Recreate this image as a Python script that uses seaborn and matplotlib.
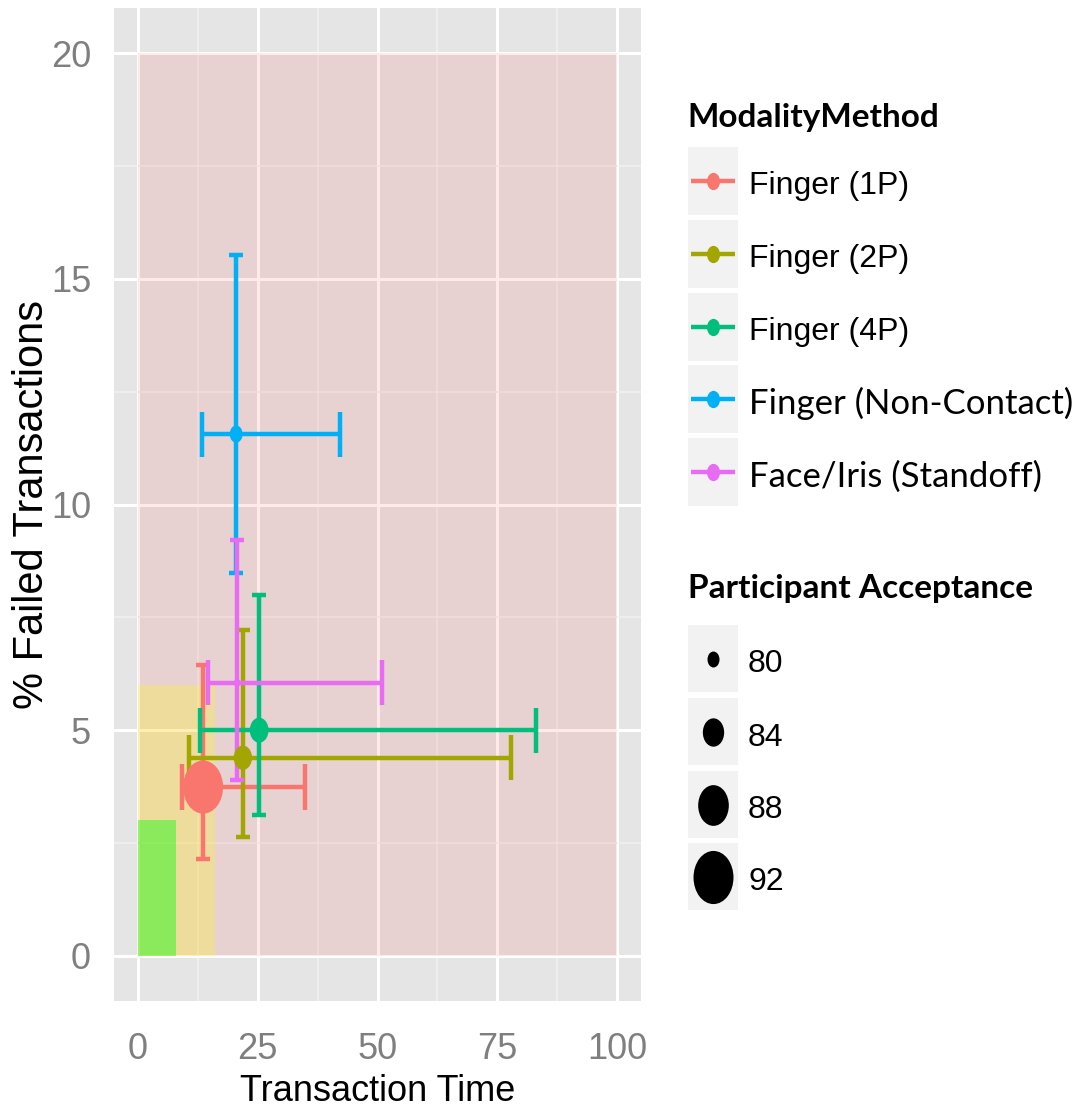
import matplotlib
matplotlib.use("Agg")
import numpy as np
import pandas as pd
import matplotlib.pyplot as plt
import seaborn as sns
from matplotlib.patches import Rectangle
from matplotlib.path import Path
from matplotlib.markers import MarkerStyle
from matplotlib.transforms import Affine2D

# values
methods = ["Finger (1P)", "Finger (2P)", "Finger (4P)",
           "Finger (Non-Contact)", "Face/Iris (Standoff)"]
time_mean = [13.6, 21.9, 25.3, 20.5, 20.7]
time_low = [9.2, 10.6, 12.9, 13.4, 14.6]
time_high = [34.9, 77.9, 83.1, 42.2, 50.9]
fail_mean = [3.74, 4.39, 5.0, 11.56, 6.05]
fail_low = [2.15, 2.64, 3.12, 8.48, 3.9]
fail_high = [6.45, 7.22, 8.0, 15.53, 9.21]
acceptance = [92.0, 82.7, 82.9, 80.4, 77.6]
size_breaks = [80, 84, 88, 92]

# target zones (time limit, failure limit)
zone_time = [100, 16, 8]
zone_fail = [20, 6, 3]
zone_colors = ["#FF0000", "#FFFF00", "#00FF00"]
zone_alpha = [0.085, 0.25, 0.41]

palette = ["#F8766D", "#A3A500", "#00BF7D", "#00B0F6", "#E76BF3"]

W, H = 1088, 1115
STRETCH = 1.33


def diam_px(v):
    return 12 + 2.33 * (v - 80)


def area(v):
    return (STRETCH * diam_px(v) * 0.72) ** 2


ellipse = MarkerStyle(Path.unit_circle().transformed(Affine2D().scale(1, STRETCH)))

df = pd.DataFrame({"method": methods, "time": time_mean, "fail": fail_mean,
                   "acceptance": acceptance})

sns.set_theme(style="darkgrid")
plt.rcParams["font.family"] = ["Liberation Sans", "DejaVu Sans"]
plt.rcParams["text.color"] = "black"

fig = plt.figure(figsize=(W / 100, H / 100), dpi=100)
ax = fig.add_axes([114 / W, 1 - 1001 / H, 527 / W, 993 / H])
ax.set_facecolor("#E5E5E5")
ax.set_axisbelow(True)

for xt, yt, c, a in zip(zone_time, zone_fail, zone_colors, zone_alpha):
    ax.add_patch(Rectangle((0, 0), xt, yt, facecolor=c, alpha=a, lw=0, zorder=1))

lw = 3.2
for i, c in enumerate(palette):
    ax.vlines(time_mean[i], fail_low[i], fail_high[i], color=c, lw=lw, zorder=3)
    ax.hlines([fail_low[i], fail_high[i]], time_mean[i] - 1.5, time_mean[i] + 1.5,
              color=c, lw=lw, zorder=3)
    ax.hlines(fail_mean[i], time_low[i], time_high[i], color=c, lw=lw, zorder=3)
    ax.vlines([time_low[i], time_high[i]], fail_mean[i] - 0.5, fail_mean[i] + 0.5,
              color=c, lw=lw, zorder=3)

sns.scatterplot(data=df, x="time", y="fail", hue="method", hue_order=methods,
                palette=palette, size="acceptance",
                sizes={v: area(v) for v in acceptance},
                marker=ellipse, linewidth=0, legend=False, ax=ax, zorder=5)

ax.set_xlim(-5, 105)
ax.set_ylim(-1, 21)
ax.set_xticks([0, 25, 50, 75, 100])
ax.set_xticks([12.5, 37.5, 62.5, 87.5], minor=True)
ax.set_yticks([0, 5, 10, 15, 20])
ax.set_yticks([2.5, 7.5, 12.5, 17.5], minor=True)
ax.grid(which="major", color="white", lw=2.2)
ax.grid(which="minor", color="#F2F2F2", lw=1.1)
for s in ax.spines.values():
    s.set_visible(False)
ax.tick_params(which="minor", length=0)
ax.tick_params(axis="x", which="major", length=15, width=2.5, color="#7F7F7F",
               labelsize=26, labelcolor="#7F7F7F", pad=7)
ax.tick_params(axis="y", which="major", length=9.5, width=2.5, color="#7F7F7F",
               labelsize=26, labelcolor="#7F7F7F", pad=7)
ax.set_xlabel("Transaction Time", fontsize=26, color="black")
ax.set_ylabel("% Failed Transactions", fontsize=30, color="black")
ax.xaxis.set_label_coords(0.5, -0.074)
ax.yaxis.set_label_coords(-0.118, 0.5)

# legends drawn in pixel space
lax = fig.add_axes([0, 0, 1, 1])
lax.set_xlim(0, W)
lax.set_ylim(H, 0)
lax.axis("off")
lax.patch.set_visible(False)

lax.text(687, 127, "ModalityMethod", fontsize=24, fontweight="bold",
         family=["Lato", "DejaVu Sans"], va="baseline", ha="left")
key_tops = [147, 220, 293, 365, 438]
for i, (m, c) in enumerate(zip(methods, palette)):
    top = key_tops[i]
    cy = top + 34
    lax.add_patch(Rectangle((688, top), 50, 68, facecolor="#F2F2F2", lw=0))
    lax.plot([691, 735], [cy, cy], color=c, lw=lw, solid_capstyle="butt")
    lax.scatter([713], [cy], s=(STRETCH * 13 * 0.72) ** 2, color=c, marker=ellipse,
                linewidth=0, zorder=3)
    if i < 3:
        lax.text(749, cy + 13, m, fontsize=23, va="baseline", ha="left")
    else:
        lax.text(749, cy + 15, m, fontsize=25, family=["Lato", "DejaVu Sans"],
                 va="baseline", ha="left")

lax.text(688, 598, "Participant Acceptance", fontsize=24, fontweight="bold",
         family=["Lato", "DejaVu Sans"], va="baseline", ha="left")
size_tops = [625, 698, 771, 843]
for top, b in zip(size_tops, size_breaks):
    cy = top + 33.5
    lax.add_patch(Rectangle((688, top), 50, 67, facecolor="#F2F2F2", lw=0))
    lax.scatter([713], [cy], s=area(b), color="black", marker=ellipse, linewidth=0,
                zorder=3)
    lax.text(748, cy + 14, str(b), fontsize=23, va="baseline", ha="left")

fig.savefig("out.png", dpi=100)
